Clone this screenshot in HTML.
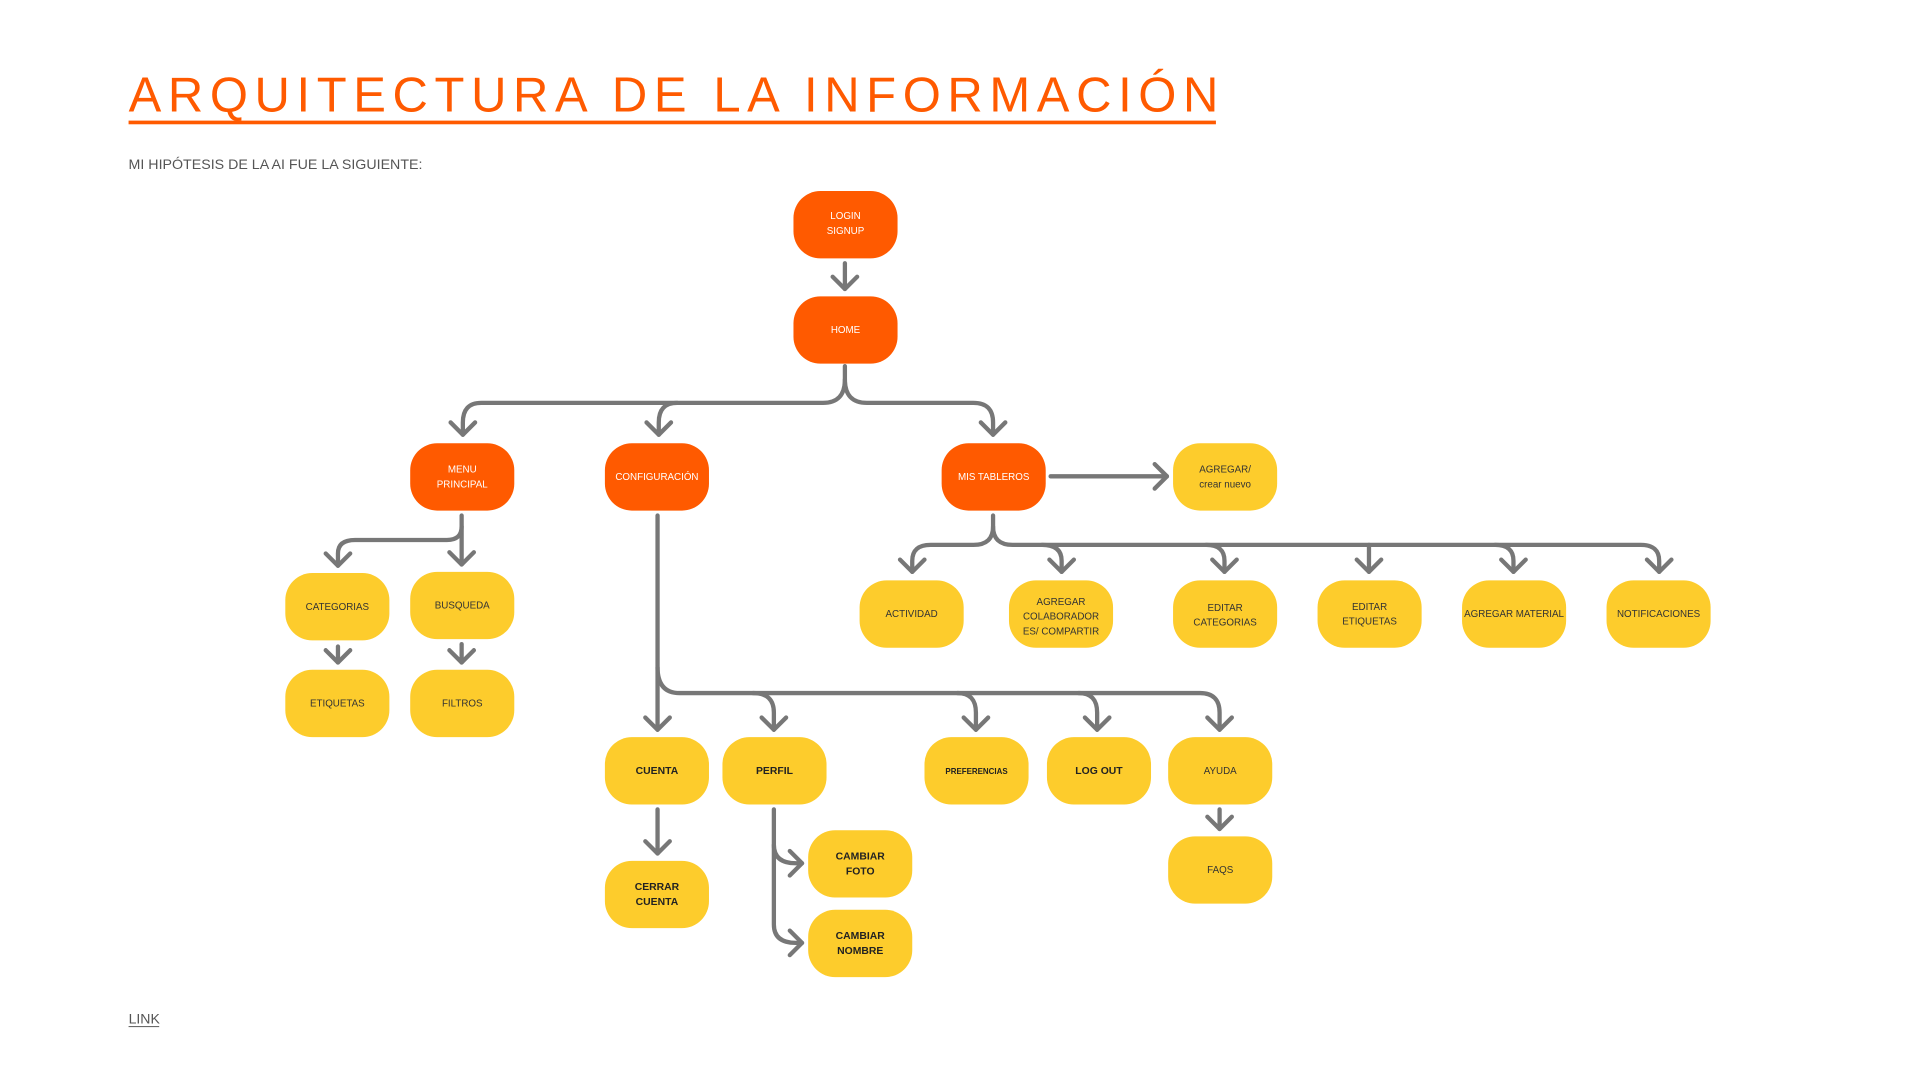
<!DOCTYPE html>
<html><head><meta charset="utf-8"><style>
html,body{margin:0;padding:0;background:#fff;width:1920px;height:1080px;overflow:hidden}
svg{display:block}
text{font-family:"Liberation Sans","DejaVu Sans",sans-serif}
</style></head><body>
<svg width="1920" height="1080" viewBox="0 0 1568 882" xmlns="http://www.w3.org/2000/svg">
<rect width="1568" height="882" fill="#fff"/>
<text x="105" y="91" font-size="40" fill="#FF5A00" textLength="890" lengthAdjust="spacing">ARQUITECTURA DE LA INFORMACIÓN</text>
<rect x="105" y="98.5" width="888" height="3" fill="#FF5A00"/>
<text x="105" y="138" font-size="11.5" fill="#555" textLength="240" lengthAdjust="spacingAndGlyphs">MI HIPÓTESIS DE LA AI FUE LA SIGUIENTE:</text>
<text x="105" y="836" font-size="11.5" fill="#555">LINK</text>
<rect x="105" y="838" width="25" height="0.8" fill="#555"/>

<g fill="none" stroke="#777" stroke-width="3.5" stroke-linecap="round" stroke-linejoin="round">
<!-- login -> home -->
<path d="M690,215 V236"/><path d="M680,226 L690,236 L700,226"/>
<!-- home splits -->
<path d="M690,299 V310 Q690,329 672,329 H393 Q378,329 378,345 V355"/>
<path d="M690,310 Q690,329 708,329 H795 Q811,329 811,345 V355"/>
<path d="M553,329 Q538,329 538,345 V355"/>
<path d="M368,345 L378,355 L388,345"/><path d="M528,345 L538,355 L548,345"/><path d="M801,345 L811,355 L821,345"/>
<!-- menu -->
<path d="M377,421 V461"/><path d="M367,451 L377,461 L387,451"/>
<path d="M377,430 Q377,441 365,441 H290 Q276,441 276,452 V462"/><path d="M266,452 L276,462 L286,452"/>
<path d="M276,528 V541"/><path d="M266,531 L276,541 L286,531"/>
<path d="M377,526 V541"/><path d="M367,531 L377,541 L387,531"/>
<!-- mis tableros -->
<path d="M858,389 H953"/><path d="M943,379 L953,389 L943,399"/>
<path d="M811,421 V430 Q811,445 795,445 H760 Q745,445 745,458 V467"/>
<path d="M811,430 Q811,445 827,445 H1340 Q1355,445 1355,458 V467"/>
<path d="M851,445 Q867,445 867,458 V467"/>
<path d="M985,445 Q1000,445 1000,458 V467"/>
<path d="M1118,445 V467"/>
<path d="M1221,445 Q1236,445 1236,458 V467"/>
<path d="M735,457 L745,467 L755,457"/><path d="M857,457 L867,467 L877,457"/><path d="M990,457 L1000,467 L1010,457"/><path d="M1108,457 L1118,467 L1128,457"/><path d="M1226,457 L1236,467 L1246,457"/><path d="M1345,457 L1355,467 L1365,457"/>
<!-- config -->
<path d="M537,421 V596"/>
<path d="M537,545 Q537,566 555,566 H980 Q996,566 996,582 V596"/>
<path d="M615,566 Q632,566 632,582 V596"/>
<path d="M782,566 Q797,566 797,582 V596"/>
<path d="M881,566 Q896,566 896,582 V596"/>
<path d="M527,586 L537,596 L547,586"/><path d="M622,586 L632,596 L642,586"/><path d="M787,586 L797,596 L807,586"/><path d="M886,586 L896,596 L906,586"/><path d="M986,586 L996,596 L1006,586"/>
<path d="M537,661 V697"/><path d="M527,687 L537,697 L547,687"/>
<path d="M996,661 V677"/><path d="M986,667 L996,677 L1006,667"/>
<path d="M632,661 V690 Q632,705 650,705 H655"/><path d="M632,690 V755 Q632,770 650,770 H655"/>
<path d="M645,695 L655,705 L645,715"/><path d="M645,760 L655,770 L645,780"/>
</g>

<g>
<!-- orange nodes -->
<g fill="#FF5A00">
<rect x="648" y="156" width="85" height="55" rx="22"/>
<rect x="648" y="242" width="85" height="55" rx="22"/>
<rect x="335" y="362" width="85" height="55" rx="22"/>
<rect x="494" y="362" width="85" height="55" rx="22"/>
<rect x="769" y="362" width="85" height="55" rx="22"/>
</g>
<g fill="#FDCC2C">
<rect x="958" y="362" width="85" height="55" rx="22"/>
<rect x="702" y="474" width="85" height="55" rx="22"/>
<rect x="824" y="474" width="85" height="55" rx="22"/>
<rect x="958" y="474" width="85" height="55" rx="22"/>
<rect x="1076" y="474" width="85" height="55" rx="22"/>
<rect x="1194" y="474" width="85" height="55" rx="22"/>
<rect x="1312" y="474" width="85" height="55" rx="22"/>
<rect x="233" y="468" width="85" height="55" rx="22"/>
<rect x="335" y="467" width="85" height="55" rx="22"/>
<rect x="233" y="547" width="85" height="55" rx="22"/>
<rect x="335" y="547" width="85" height="55" rx="22"/>
<rect x="494" y="602" width="85" height="55" rx="22"/>
<rect x="590" y="602" width="85" height="55" rx="22"/>
<rect x="755" y="602" width="85" height="55" rx="22"/>
<rect x="855" y="602" width="85" height="55" rx="22"/>
<rect x="954" y="602" width="85" height="55" rx="22"/>
<rect x="494" y="703" width="85" height="55" rx="22"/>
<rect x="954" y="683" width="85" height="55" rx="22"/>
<rect x="660" y="678" width="85" height="55" rx="22"/>
<rect x="660" y="743" width="85" height="55" rx="22"/>
</g>
</g>

<g font-size="8" fill="#fff" text-anchor="middle">
<text x="690.5" y="179">LOGIN</text><text x="690.5" y="191">SIGNUP</text>
<text x="690.5" y="272">HOME</text>
<text x="377.5" y="386">MENU</text><text x="377.5" y="398">PRINCIPAL</text>
<text x="536.5" y="392">CONFIGURACIÓN</text>
<text x="811.5" y="392">MIS TABLEROS</text>
</g>
<g font-size="8" fill="#333" text-anchor="middle">
<text x="1000.5" y="386">AGREGAR/</text><text x="1000.5" y="398">crear nuevo</text>
<text x="744.5" y="504">ACTIVIDAD</text>
<text x="866.5" y="494">AGREGAR</text><text x="866.5" y="506">COLABORADOR</text><text x="866.5" y="518">ES/ COMPARTIR</text>
<text x="1000.5" y="499">EDITAR</text><text x="1000.5" y="511">CATEGORIAS</text>
<text x="1118.5" y="498">EDITAR</text><text x="1118.5" y="510">ETIQUETAS</text>
<text x="1236.5" y="504">AGREGAR MATERIAL</text>
<text x="1354.5" y="504">NOTIFICACIONES</text>
<text x="275.5" y="498">CATEGORIAS</text>
<text x="377.5" y="497">BUSQUEDA</text>
<text x="275.5" y="577">ETIQUETAS</text>
<text x="377.5" y="577">FILTROS</text>
<text x="996.5" y="632">AYUDA</text>
<text x="996.5" y="713">FAQS</text>
</g>
<g font-size="8.5" fill="#222" text-anchor="middle" font-weight="bold">
<text x="536.5" y="632">CUENTA</text>
<text x="632.5" y="632">PERFIL</text>
<text x="797.5" y="632" font-size="6.5">PREFERENCIAS</text>
<text x="897.5" y="632">LOG OUT</text>
<text x="536.5" y="727">CERRAR</text><text x="536.5" y="739">CUENTA</text>
<text x="702.5" y="702">CAMBIAR</text><text x="702.5" y="714">FOTO</text>
<text x="702.5" y="767">CAMBIAR</text><text x="702.5" y="779">NOMBRE</text>
</g>
</svg>
</body></html>
